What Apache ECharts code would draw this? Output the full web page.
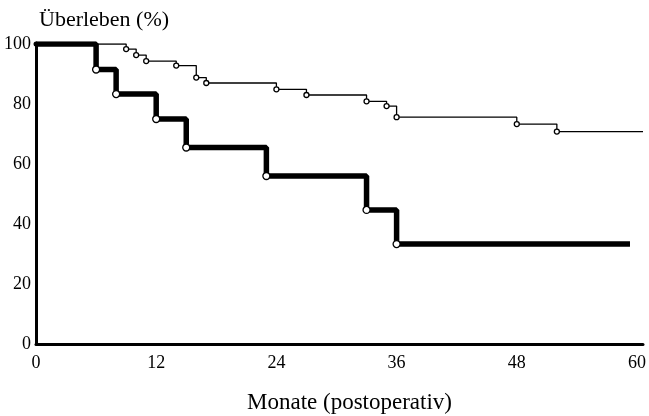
<!DOCTYPE html>
<html>
<head>
<meta charset="utf-8">
<script src="https://cdn.jsdelivr.net/npm/echarts@6/dist/echarts.min.js"></script>
<style>html,body{margin:0;padding:0;background:#fff}#c{width:649px;height:416px}</style>
</head>
<body>
<div id="c"></div>
<script>
const xTicks = [0, 12, 24, 36, 48, 60];
const yTicks = [0, 20, 40, 60, 80, 100];
// thin curve (upper)
const thinMonths = [0, 9, 10, 11, 14, 16, 17, 24, 27, 33, 35, 36, 48, 52, 60.6];
const thinSurv   = [100, 98.3, 96.3, 94.3, 92.8, 88.8, 87, 84.9, 83, 80.9, 79.3, 75.6, 73.3, 70.8, 70.8];
// thick curve (lower)
const thickMonths = [0, 6, 8, 12, 15, 23, 33, 36, 59.3];
const thickSurv   = [100, 91.5, 83.3, 75, 65.5, 56, 44.7, 33.3, 33.3];

const serif = 'Liberation Serif';
const pairs = (xs, ys) => xs.map((x, i) => [x, ys[i]]);
const thinData = pairs(thinMonths, thinSurv);
const thickData = pairs(thickMonths, thickSurv);
const thinMarks = thinData.slice(1, -1);
const thickMarks = thickData.slice(1, -1);

const chart = echarts.init(document.getElementById('c'));
chart.setOption({
  animation: false,
  backgroundColor: '#fff',
  title: {
    text: 'Überleben (%)', left: 34, top: 4,
    textStyle: { fontFamily: serif, fontSize: 22, fontWeight: 'normal', color: '#000' }
  },
  grid: { left: 36, right: 6, top: 44, bottom: 72, outerBoundsMode: 'none', containLabel: false },
  xAxis: {
    type: 'value', min: 0, max: 60.6, interval: 12,
    name: 'Monate (postoperativ)', nameLocation: 'middle', nameGap: 47,
    nameTextStyle: { fontFamily: serif, fontSize: 23, color: '#000', padding: [0, 0, 0, 20] },
    axisLine: { lineStyle: { color: '#000', width: 3 } },
    axisTick: { show: false },
    splitLine: { show: false },
    axisLabel: {
      fontFamily: serif, fontSize: 18, color: '#000', margin: 10,
      showMaxLabel: false,
      formatter: v => (xTicks.includes(v) ? String(v) : '')
    }
  },
  yAxis: {
    type: 'value', min: 0, max: 100, interval: 20,
    axisLine: { show: true, lineStyle: { color: '#000', width: 3 } },
    axisTick: { show: false },
    splitLine: { show: false },
    axisLabel: {
      fontFamily: serif, fontSize: 18, color: '#000', margin: 5,
      formatter: v => (yTicks.includes(v) ? String(v) : '')
    }
  },
  series: [
    {
      type: 'line', step: 'end', data: thinData, showSymbol: false,
      lineStyle: { color: '#000', width: 1.3 }, z: 3
    },
    {
      type: 'line', step: 'end', data: thickData, showSymbol: false,
      lineStyle: { color: '#000', width: 5.5, cap: 'butt' }, z: 4
    },
    {
      type: 'scatter', data: thinMarks, symbol: 'circle', symbolSize: 5,
      itemStyle: { color: '#fff', borderColor: '#000', borderWidth: 1.3, opacity: 1 }, z: 5
    },
    {
      type: 'scatter', data: thickMarks, symbol: 'circle', symbolSize: 7,
      itemStyle: { color: '#fff', borderColor: '#000', borderWidth: 1.3, opacity: 1 }, z: 6
    },
    {
      type: 'scatter', data: [thinData[0]], symbol: 'circle', symbolSize: 5,
      itemStyle: { color: '#000', opacity: 1 }, z: 6
    }
  ]
});
</script>
</body>
</html>
